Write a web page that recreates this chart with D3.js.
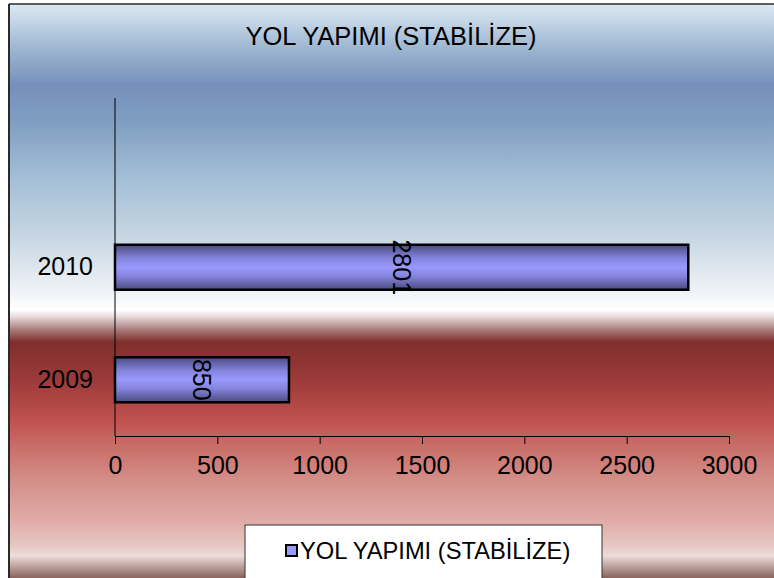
<!DOCTYPE html>
<html>
<head>
<meta charset="utf-8">
<script src="https://cdn.jsdelivr.net/npm/d3@7"></script>
<style>
  body { margin: 0; background: #fff; }
  svg text { font-family: Arial, "Liberation Sans", sans-serif; fill: #000; }
</style>
</head>
<body>
<svg id="chart" width="774" height="578"></svg>
<script>
// data
let years = ['2010', '2009'];
let values = [2801, 850];
let xTicks = [0, 500, 1000, 1500, 2000, 2500, 3000];
let title = 'YOL YAPIMI (STABİLİZE)';
let seriesName = 'YOL YAPIMI (STABİLİZE)';

let svg = d3.select('#chart');
let defs = svg.append('defs');

// background gradient, blue sky over red
let bg = defs.append('linearGradient').attr('id', 'bgGrad')
  .attr('gradientUnits', 'userSpaceOnUse')
  .attr('x1', 0).attr('x2', 0).attr('y1', 4).attr('y2', 578);
[[4,'#dde8f2'],[20,'#c6d7e7'],[50,'#9bb4cf'],[85,'#7790bb'],[120,'#7f9dc1'],
 [180,'#a5bfd6'],[240,'#c9d8e4'],[290,'#eef2f6'],[310,'#ffffff'],[316,'#eadfdf'],
 [330,'#a77a78'],[342,'#7f2f2d'],[380,'#9b3b39'],[420,'#c0514e'],[445,'#c96c67'],
 [480,'#d48e88'],[520,'#e0aba7'],[545,'#e6c6c2'],[556,'#ecdcd8'],[578,'#8a625c']]
  .forEach(s => bg.append('stop').attr('offset', (s[0]-4)/574).attr('stop-color', s[1]));

// bar gradient
let bgBar = defs.append('linearGradient').attr('id', 'barGrad')
  .attr('x1', 0).attr('x2', 0).attr('y1', 0).attr('y2', 1);
[[0,'#4a4a80'],[0.3,'#8484dc'],[0.5,'#9999ff'],[0.7,'#8484dc'],[1,'#4a4a80']]
  .forEach(s => bgBar.append('stop').attr('offset', s[0]).attr('stop-color', s[1]));

svg.append('rect').attr('x', 9).attr('y', 4).attr('width', 780).attr('height', 590)
  .attr('fill', 'url(#bgGrad)');
svg.append('line').attr('x1', 9).attr('x2', 9).attr('y1', 4).attr('y2', 578)
  .attr('stroke', '#2a2a2a').attr('stroke-width', 2);
svg.append('line').attr('x1', 9).attr('x2', 774).attr('y1', 4).attr('y2', 4)
  .attr('stroke', '#2a2a2a').attr('stroke-width', 1.5);

svg.append('text').attr('x', 391).attr('y', 36)
  .attr('text-anchor', 'middle').attr('dominant-baseline', 'central')
  .style('font-size', '25.5px').text(title);

// scales
let x = d3.scaleLinear().domain([0, 3000]).range([115, 729]);
let y = d3.scaleBand().domain(years).range([211, 436]).paddingInner(0.6).paddingOuter(0.3);

// plot left edge
svg.append('line').attr('x1', 115).attr('x2', 115).attr('y1', 98).attr('y2', 436)
  .attr('stroke', '#000').attr('stroke-width', 1);

// bars
svg.selectAll('.bar').data(values).enter().append('rect').classed('bar', true)
  .attr('x', x(0))
  .attr('y', (d, i) => y(years[i]))
  .attr('width', d => x(d) - x(0))
  .attr('height', y.bandwidth())
  .attr('fill', 'url(#barGrad)')
  .attr('stroke', '#000').attr('stroke-width', 2.5);

// value labels, rotated
svg.selectAll('.vlab').data(values).enter().append('text').classed('vlab', true)
  .attr('transform', (d, i) => `translate(${x(d / 2)},${y(years[i]) + y.bandwidth() / 2}) rotate(90)`)
  .attr('text-anchor', 'middle').attr('dominant-baseline', 'central')
  .style('font-size', '25px').text(d => d);

// x axis
let xa = svg.append('g').attr('transform', 'translate(0,436)')
  .call(d3.axisBottom(x).tickValues(xTicks).tickFormat(d3.format('d')).tickSize(8).tickPadding(12));
xa.select('.domain').attr('stroke', '#000');
xa.selectAll('.tick line').attr('stroke', '#000');
xa.selectAll('text').style('font-size', '25px').attr('font-family', null);

// y axis labels
let ya = svg.append('g').attr('transform', 'translate(115,0)')
  .call(d3.axisLeft(y).tickSize(0).tickPadding(22));
ya.select('.domain').remove();
ya.selectAll('text').style('font-size', '25px').attr('font-family', null);

// legend
let lg = svg.append('g');
lg.append('rect').attr('x', 245).attr('y', 525).attr('width', 357).attr('height', 60)
  .attr('fill', '#fff').attr('stroke', '#333').attr('stroke-width', 1);
lg.append('rect').attr('x', 286).attr('y', 545).attr('width', 11).attr('height', 11)
  .attr('fill', '#9999ff').attr('stroke', '#000').attr('stroke-width', 2);
lg.append('text').attr('x', 300).attr('y', 551).attr('dominant-baseline', 'central')
  .style('font-size', '23.7px').text(seriesName);
</script>
</body>
</html>
